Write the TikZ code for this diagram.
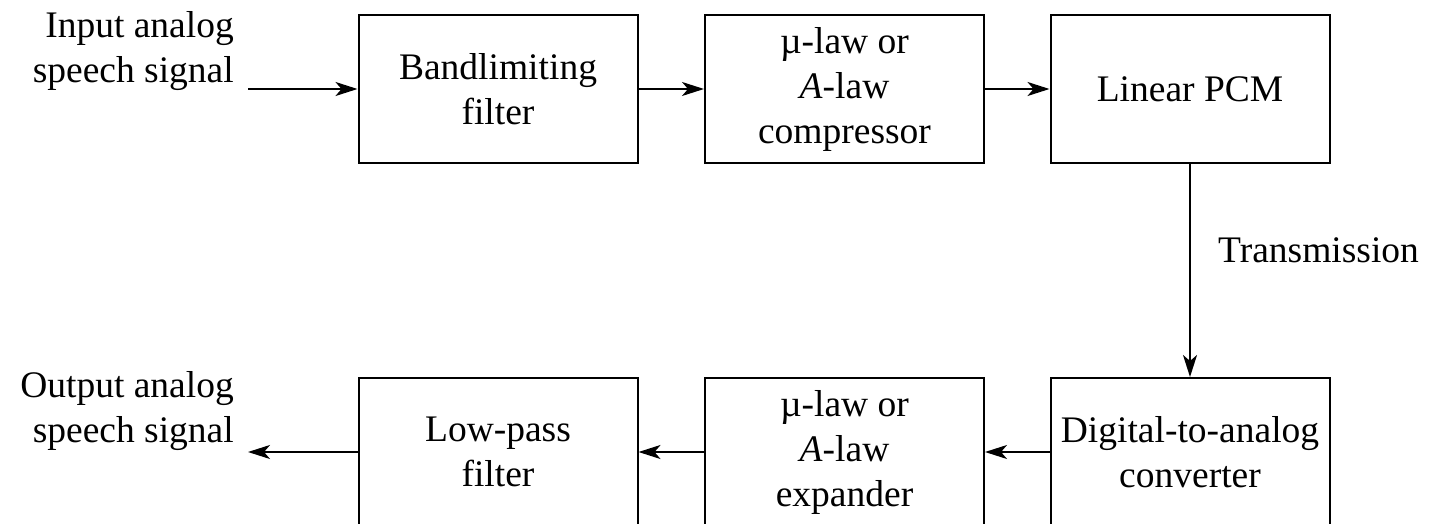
\documentclass[tikz,border=0pt]{standalone}
\usepackage{fontspec}
\setmainfont{Liberation Serif}
\usetikzlibrary{arrows.meta}
\begin{document}
\begin{tikzpicture}[x=1pt,y=1pt,
  blk/.style={draw, line width=2pt, minimum width=279pt, minimum height=148pt, align=center, inner sep=0pt},
  lbl/.style={inner sep=0pt, align=right},
  conn/.style={line width=2pt, -{Stealth[length=22pt,width=14pt,inset=6pt]}},
  every node/.style={font=\fontsize{37.5}{45}\selectfont}]
\clip (0,0) rectangle (1442,523);
% top row
\node[blk] (bf) at (498,434) {Bandlimiting\\filter};
\node[blk] (cmp) at (844.5,434) {µ-law or\\\textit{A}-law\\compressor};
\node[blk] (pcm) at (1190,434) {Linear PCM};
% bottom row
\node[blk] (dac) at (1190,71) {Digital-to-analog\\converter};
\node[blk] (exp) at (844.5,71) {µ-law or\\\textit{A}-law\\expander};
\node[blk] (lpf) at (498,71) {Low-pass\\filter};
% labels
\node[lbl, anchor=east] (in) at (234,471.5) {Input analog\\speech signal};
\node[lbl, anchor=east] (out) at (234,111.5) {Output analog\\speech signal};
\node[inner sep=0pt, anchor=west] (tr) at (1218,272.5) {Transmission};
\coordinate (inS) at (248,434);
\coordinate (outE) at (248,71);
% connectors
\draw[conn] (inS) -- (bf.west);
\draw[conn] (bf) -- (cmp);
\draw[conn] (cmp) -- (pcm);
\draw[conn] (pcm) -- (dac);
\draw[conn] (dac) -- (exp);
\draw[conn] (exp) -- (lpf);
\draw[conn] (lpf.west) -- (outE);
\end{tikzpicture}
\end{document}
